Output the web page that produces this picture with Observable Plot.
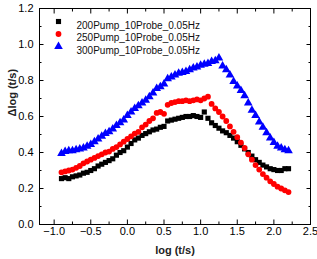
<!DOCTYPE html>
<html>
<head>
<meta charset="utf-8">
<script src="https://cdn.jsdelivr.net/npm/d3@7"></script>
<script src="https://cdn.jsdelivr.net/npm/@observablehq/plot@0.6"></script>
<style>
  html, body { margin: 0; padding: 0; background: #fff; }
  #chart { width: 317px; height: 259px; }
</style>
</head>
<body>
<div id="chart"></div>
<script>
// log (t/s) sample positions
const logT = [
  -0.90, -0.85, -0.80, -0.75, -0.70, -0.65, -0.60, -0.55, -0.50, -0.45,
  -0.40, -0.35, -0.30, -0.25, -0.20, -0.15, -0.10, -0.05, 0.00, 0.05,
  0.10, 0.15, 0.20, 0.25, 0.30, 0.35, 0.40, 0.45, 0.50, 0.55,
  0.60, 0.65, 0.70, 0.75, 0.80, 0.85, 0.90, 0.95, 1.00, 1.05,
  1.10, 1.15, 1.20, 1.25, 1.30, 1.35, 1.40, 1.45, 1.50, 1.55,
  1.60, 1.65, 1.70, 1.75, 1.80, 1.85, 1.90, 1.95, 2.00, 2.05,
  2.10, 2.15, 2.20
];
// Δlog (t/s), 200Pump_10Probe_0.05Hz
const y200 = [
  0.255, 0.260, 0.255, 0.265, 0.270, 0.275, 0.285, 0.290, 0.300, 0.310,
  0.325, 0.335, 0.345, 0.355, 0.365, 0.385, 0.400, 0.410, 0.430, 0.450,
  0.470, 0.480, 0.495, 0.505, 0.515, 0.525, 0.530, 0.540, 0.545, 0.575,
  0.580, 0.585, 0.590, 0.595, 0.600, 0.600, 0.605, 0.600, 0.595, 0.625,
  0.590, 0.565, 0.550, 0.535, 0.520, 0.510, 0.495, 0.480, 0.460, 0.440,
  0.420, 0.400, 0.380, 0.360, 0.345, 0.330, 0.320, 0.310, 0.305, 0.300,
  0.300, 0.310, 0.310
];
// Δlog (t/s), 250Pump_10Probe_0.05Hz
const y250 = [
  0.290, 0.295, 0.300, 0.305, 0.315, 0.325, 0.340, 0.350, 0.360, 0.370,
  0.380, 0.390, 0.400, 0.405, 0.420, 0.430, 0.445, 0.460, 0.475, 0.490,
  0.505, 0.515, 0.540, 0.555, 0.575, 0.590, 0.620, 0.625, 0.615, 0.665,
  0.675, 0.680, 0.685, 0.685, 0.690, 0.685, 0.690, 0.695, 0.690, 0.700,
  0.710, 0.670, 0.645, 0.625, 0.600, 0.575, 0.545, 0.515, 0.485, 0.455,
  0.425, 0.390, 0.360, 0.330, 0.305, 0.280, 0.260, 0.240, 0.225, 0.210,
  0.200, 0.190, 0.180
];
// Δlog (t/s), 300Pump_10Probe_0.05Hz
const y300 = [
  0.395, 0.405, 0.410, 0.410, 0.415, 0.420, 0.425, 0.435, 0.445, 0.460,
  0.475, 0.490, 0.505, 0.515, 0.530, 0.550, 0.565, 0.580, 0.605, 0.625,
  0.645, 0.660, 0.675, 0.690, 0.710, 0.730, 0.755, 0.765, 0.780, 0.810,
  0.820, 0.830, 0.840, 0.845, 0.850, 0.860, 0.870, 0.875, 0.885, 0.890,
  0.895, 0.905, 0.910, 0.925, 0.880, 0.860, 0.830, 0.795, 0.770, 0.745,
  0.715, 0.675, 0.635, 0.605, 0.570, 0.540, 0.510, 0.480, 0.455, 0.435,
  0.425, 0.415, 0.410
];

const seriesNames = ["200Pump_10Probe_0.05Hz", "250Pump_10Probe_0.05Hz", "300Pump_10Probe_0.05Hz"];
const seriesValues = [y200, y250, y300];
const seriesColors = ["#000000", "#ff0000", "#0000ff"];
const seriesSymbols = ["square", "circle", "triangle"];

const xTicks = [-1.0, -0.5, 0.0, 0.5, 1.0, 1.5, 2.0, 2.5];
const xMinor = [-0.75, -0.25, 0.25, 0.75, 1.25, 1.75, 2.25];
const yTicks = [0.0, 0.2, 0.4, 0.6, 0.8, 1.0, 1.2];
const yMinor = [0.1, 0.3, 0.5, 0.7, 0.9, 1.1];

const rows = [];
seriesValues.forEach((vals, s) => {
  vals.forEach((v, i) => rows.push({x: logT[i], y: v, s}));
});

const fmt = d3.format(".1f");
const marks = [];

// data points
seriesNames.forEach((name, s) => {
  marks.push(Plot.dot(rows.filter(d => d.s === s), {
    x: "x", y: "y", symbol: () => seriesSymbols[s], fill: seriesColors[s],
    r: s === 2 ? 3.2 : 2.9, stroke: "none"
  }));
});

// inward ticks on all four sides
for (const anchor of ["bottom", "top"]) {
  marks.push(Plot.axisX(xTicks, {anchor, tickSize: -4.5, tickFormat: () => "", label: null}));
  marks.push(Plot.axisX(xMinor, {anchor, tickSize: -2.5, tickFormat: () => "", label: null}));
}
for (const anchor of ["left", "right"]) {
  marks.push(Plot.axisY(yTicks, {anchor, tickSize: -4.5, tickFormat: () => "", label: null}));
  marks.push(Plot.axisY(yMinor, {anchor, tickSize: -2.5, tickFormat: () => "", label: null}));
}
// tick labels
marks.push(Plot.axisX(xTicks, {anchor: "bottom", tickSize: 0, tickPadding: 3, tickFormat: fmt, label: null}));
marks.push(Plot.axisY(yTicks, {anchor: "left", tickSize: 0, tickPadding: 6, tickFormat: fmt, label: null}));

marks.push(Plot.frame({stroke: "black", strokeWidth: 1}));

// axis titles
marks.push(Plot.text(["log (t/s)"], {frameAnchor: "bottom", dy: 29, fontSize: 11, fontWeight: "bold", fill: "#222"}));
marks.push(Plot.text(["Δlog (t/s)"], {frameAnchor: "left", dx: -27, rotate: -90, fontSize: 11, fontWeight: "bold", fill: "#222"}));

// legend
seriesNames.forEach((name, s) => {
  marks.push(Plot.dot([0], {frameAnchor: "top-left", dx: 19, dy: 13 + s * 12.5,
    symbol: () => seriesSymbols[s], fill: seriesColors[s], r: s === 2 ? 3.2 : 2.9}));
  marks.push(Plot.text([name], {frameAnchor: "top-left", dx: 37, dy: 13 + s * 12.5,
    textAnchor: "start", fontSize: 10, fill: "#111"}));
});

const chart = Plot.plot({
  width: 317,
  height: 259,
  marginLeft: 39,
  marginRight: 7,
  marginTop: 8,
  marginBottom: 35,
  x: {domain: [-1.2, 2.5], axis: null},
  y: {domain: [0, 1.2], axis: null},
  style: {fontFamily: "'Liberation Sans', Arial, sans-serif", fontSize: "11px", background: "#fff", color: "#000"},
  marks
});
document.getElementById("chart").appendChild(chart);
</script>
</body>
</html>
